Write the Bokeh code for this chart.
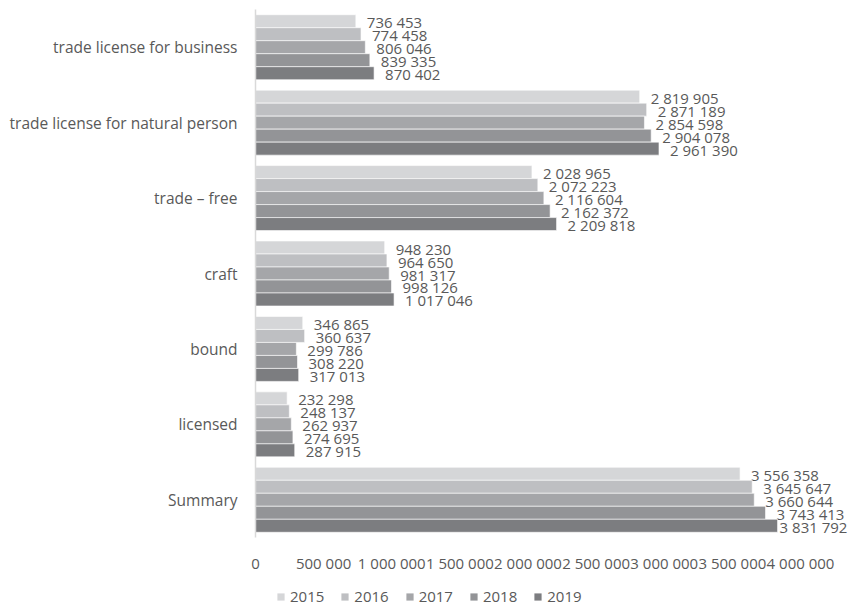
from bokeh.plotting import figure
from bokeh.models import ColumnDataSource, FixedTicker, Legend, LegendItem, FactorRange, Range1d
from bokeh.layouts import column
from bokeh.transform import dodge
from bokeh.core.properties import value
from bokeh.embed import file_html
from bokeh.resources import INLINE

categories = ["trade license for business", "trade license for natural person", "trade \u2013 free",
              "craft", "bound", "licensed", "Summary"]
years = ["2015", "2016", "2017", "2018", "2019"]
v2015 = [736453, 2819905, 2028965, 948230, 346865, 232298, 3556358]
v2016 = [774458, 2871189, 2072223, 964650, 360637, 248137, 3645647]
v2017 = [806046, 2854598, 2116604, 981317, 299786, 262937, 3660644]
v2018 = [839335, 2904078, 2162372, 998126, 308220, 274695, 3743413]
v2019 = [870402, 2961390, 2209818, 1017046, 317013, 287915, 3831792]
tick_values = [0, 500000, 1000000, 1500000, 2000000, 2500000, 3000000, 3500000, 4000000]
tick_labels = ["0", "500 000", "1 000 000", "1 500 000", "2 000 000", "2 500 000",
               "3 000 000", "3 500 000", "4 000 000"]

series = [v2015, v2016, v2017, v2018, v2019]
colors = ["#d5d6d8", "#bebfc2", "#a5a6a9", "#939497", "#7c7d80"]
FONT = "Open Sans"
TXT = "#595959"
X_END = 4381700

p = figure(width=852, height=576, output_backend="svg", toolbar_location=None,
           y_range=FactorRange(*reversed(categories), range_padding=0),
           x_range=Range1d(0, X_END),
           min_border_left=255, min_border_right=0, min_border_top=9, min_border_bottom=39)
p.outline_line_color = None
p.grid.grid_line_color = None
p.background_fill_color = "white"

bh = 0.1723
offsets = [2 * bh, bh, 0, -bh, -2 * bh]
for yr, vals, col, off in zip(years, series, colors, offsets):
    labs = [f"{x:,}".replace(",", " ") for x in vals]
    # labels that would run past the chart's right edge are pulled in (as Excel does)
    xoff = [2 if x > 3800000 else 11 for x in vals]
    src = ColumnDataSource(dict(cat=categories, v=vals, lab=labs, xoff=xoff))
    p.hbar(y=dodge("cat", off, range=p.y_range), right="v", left=0, height=bh,
           source=src, fill_color=col, line_color="white", line_width=0.6)
    p.text(x="v", y=dodge("cat", off, range=p.y_range), text="lab", source=src,
           x_offset="xoff", y_offset=1, text_baseline="middle", text_align="left",
           text_font=value(FONT), text_font_size="15px", text_color=TXT)

p.xaxis.ticker = FixedTicker(ticks=tick_values)
p.xaxis.major_label_overrides = {t: l for t, l in zip(tick_values, tick_labels)}
p.xaxis.axis_line_color = None
p.xaxis.major_tick_line_color = None
p.xaxis.minor_tick_line_color = None
p.xaxis.major_label_standoff = 9
p.xaxis.major_label_text_font = FONT
p.xaxis.major_label_text_font_size = "15px"
p.xaxis.major_label_text_color = TXT

p.yaxis.axis_line_color = "#d9d9d9"
p.yaxis.axis_line_width = 1.5
p.yaxis.major_tick_line_color = None
p.yaxis.minor_tick_line_color = None
p.yaxis.major_label_standoff = 12
p.yaxis.major_label_text_font = FONT
p.yaxis.major_label_text_font_size = "15.5px"
p.yaxis.major_label_text_color = TXT

# legend strip below the chart (swatch renderers sit outside the strip's visible range)
lg = figure(width=852, height=30, output_backend="svg", toolbar_location=None,
            x_range=Range1d(0, 1), y_range=Range1d(0, 1),
            min_border=0, min_border_left=0, min_border_right=0, min_border_top=0, min_border_bottom=0)
lg.axis.visible = False
lg.grid.grid_line_color = None
lg.outline_line_color = None
items = []
for yr, col in zip(years, colors):
    r = lg.hbar(y=[-5], right=[1], left=0, height=0.1, fill_color=col, line_color=None)
    items.append(LegendItem(label=yr, renderers=[r]))
legend = Legend(items=items, orientation="horizontal", location=(21, 0),
                glyph_width=9, glyph_height=9, spacing=16, label_standoff=5, label_height=15,
                label_text_font=FONT, label_text_font_size="15px", label_text_color=TXT,
                label_text_line_height=1.0,
                border_line_color=None, background_fill_alpha=0, padding=0, margin=0)
lg.add_layout(legend, "center")

open("out.html", "w").write(file_html(column(p, lg, spacing=0), INLINE))
